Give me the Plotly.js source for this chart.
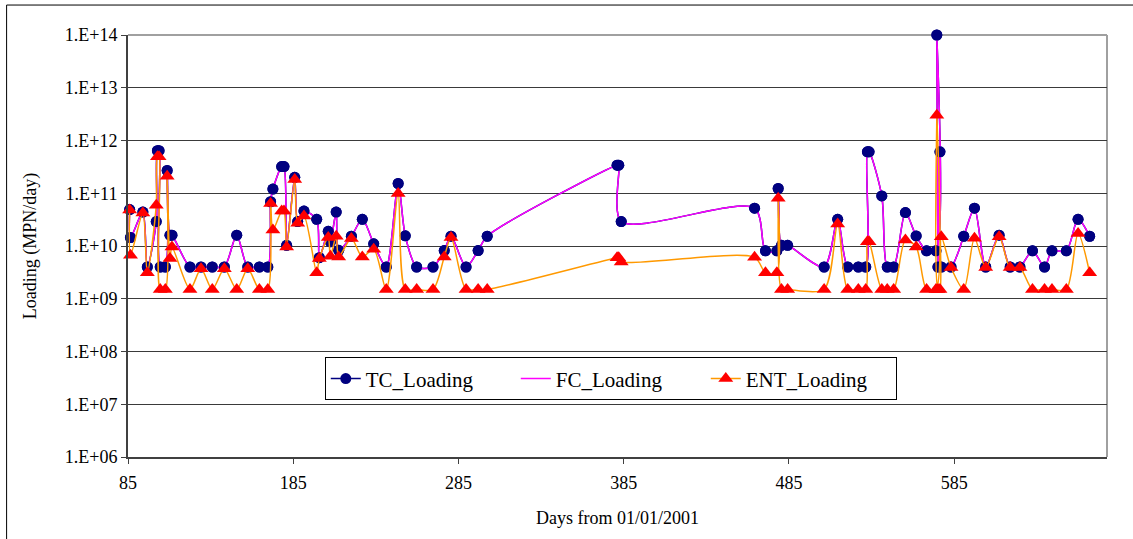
<!DOCTYPE html>
<html>
<head>
<meta charset="utf-8">
<script src="https://cdn.plot.ly/plotly-3.0.1.min.js"></script>
<style>
  html, body { margin: 0; padding: 0; background: #ffffff; }
  #chart { width: 1133px; height: 539px; }
</style>
</head>
<body>
<div id="chart"></div>
<script>
// Days from 01/01/2001 (shared sampling days)
const days = [86, 86.5, 94, 96.7, 102.1, 102.8, 103.8, 104.5, 107.6, 108.7,
  110.4, 111.6, 122.5, 129.2, 136, 143.3, 150.8, 157.5, 164.5, 169.6,
  171.3, 172.7, 178, 179.4, 181, 185.9, 187.7, 191.5, 199.2, 200.8,
  206.2, 207.5, 211, 212.5, 220.2, 226.8, 233.7, 241.3, 248.5, 252.8,
  259.7, 269.6, 276.4, 280.5, 289.6, 296.9, 302.4, 381, 382, 383.5,
  464.2, 470.8, 477.7, 478.5, 480.5, 484.2, 506.3, 514.5, 520.6, 527,
  531.5, 532.5, 533.5, 541.2, 544.5, 548.4, 555.5, 562, 568.3, 574,
  574.5, 575.2, 576.4, 577.2, 583.1, 590.8, 597.3, 604.1, 612.2, 618.9,
  624.8, 632.4, 639.7, 644.2, 652.9, 660, 667];

// TC_Loading (MPN/day)
const tcLoading = [4.9e10, 1.45e10, 4.4e10, 4e9, 2.9e10, 6.4e11, 6.4e11, 4e9, 4e9, 2.7e11,
  1.6e10, 1.6e10, 4e9, 4e9, 4e9, 4e9, 1.6e10, 4e9, 4e9, 4e9,
  6.9e10, 1.2e11, 3.2e11, 3.2e11, 1.03e10, 2.0e11, 2.9e10, 4.6e10, 3.2e10, 6e9,
  1.9e10, 1.2e10, 4.4e10, 8.3e9, 1.53e10, 3.2e10, 1.1e10, 4e9, 1.53e11, 1.56e10,
  4e9, 4e9, 8.2e9, 1.53e10, 4e9, 8.2e9, 1.53e10, 3.4e11, 3.4e11, 2.9e10,
  5.2e10, 8.1e9, 8.1e9, 1.23e11, 1.03e10, 1.03e10, 4e9, 3.2e10, 4e9, 4e9,
  4e9, 6.1e11, 6.1e11, 8.9e10, 4e9, 4e9, 4.3e10, 1.55e10, 8.1e9, 8.1e9,
  1e14, 4e9, 6.1e11, 4e9, 4e9, 1.53e10, 5.2e10, 4e9, 1.6e10, 4e9,
  4e9, 8.1e9, 4e9, 8.1e9, 8.1e9, 3.2e10, 1.53e10];

// FC_Loading (MPN/day) - coincides with TC in the picture
const fcLoading = [4.9e10, 1.45e10, 4.4e10, 4e9, 2.9e10, 6.4e11, 6.4e11, 4e9, 4e9, 2.7e11,
  1.6e10, 1.6e10, 4e9, 4e9, 4e9, 4e9, 1.6e10, 4e9, 4e9, 4e9,
  6.9e10, 1.2e11, 3.2e11, 3.2e11, 1.03e10, 2.0e11, 2.9e10, 4.6e10, 3.2e10, 6e9,
  1.9e10, 1.2e10, 4.4e10, 8.3e9, 1.53e10, 3.2e10, 1.1e10, 4e9, 1.53e11, 1.56e10,
  4e9, 4e9, 8.2e9, 1.53e10, 4e9, 8.2e9, 1.53e10, 3.4e11, 3.4e11, 2.9e10,
  5.2e10, 8.1e9, 8.1e9, 1.23e11, 1.03e10, 1.03e10, 4e9, 3.2e10, 4e9, 4e9,
  4e9, 6.1e11, 6.1e11, 8.9e10, 4e9, 4e9, 4.3e10, 1.55e10, 8.1e9, 8.1e9,
  1e14, 4e9, 6.1e11, 4e9, 4e9, 1.53e10, 5.2e10, 4e9, 1.6e10, 4e9,
  4e9, 8.1e9, 4e9, 8.1e9, 8.1e9, 3.2e10, 1.53e10];

// ENT_Loading (MPN/day)
const entLoading = [4.8e10, 6.7e9, 4.2e10, 3.1e9, 5.9e10, 4.9e11, 4.9e11, 1.5e9, 1.5e9, 2.1e11,
  5.8e9, 9.6e9, 1.5e9, 3.7e9, 1.5e9, 3.7e9, 1.5e9, 3.7e9, 1.5e9, 1.5e9,
  6.4e10, 2.0e10, 4.6e10, 4.6e10, 9.6e9, 1.83e11, 2.7e10, 3.7e10, 3.1e9, 5.8e9,
  1.45e10, 6.4e9, 1.53e10, 6.2e9, 1.39e10, 6.2e9, 8.7e9, 1.5e9, 9.9e10, 1.5e9,
  1.5e9, 1.5e9, 6.2e9, 1.45e10, 1.5e9, 1.5e9, 1.5e9, 6e9, 6e9, 5e9,
  6.1e9, 3.1e9, 3.1e9, 8e10, 1.5e9, 1.5e9, 1.5e9, 2.6e10, 1.5e9, 1.5e9,
  1.5e9, 1.2e10, 1.2e10, 1.5e9, 1.5e9, 1.5e9, 1.3e10, 9.6e9, 1.5e9, 1.5e9,
  3e12, 1.5e9, 1.5e9, 1.5e10, 3.9e9, 1.5e9, 1.4e10, 3.9e9, 1.5e10, 3.9e9,
  3.9e9, 1.5e9, 1.5e9, 1.5e9, 1.5e9, 1.73e10, 3.1e9];

// Axis tick labels
const yTickVals = [1e6, 1e7, 1e8, 1e9, 1e10, 1e11, 1e12, 1e13, 1e14];
const yTickText = ["1.E+06", "1.E+07", "1.E+08", "1.E+09", "1.E+10", "1.E+11", "1.E+12", "1.E+13", "1.E+14"];
const xTickVals = [85, 185, 285, 385, 485, 585];

const FONT = "Liberation Serif, Times New Roman, serif";

const traces = [
  {
    x: days, y: tcLoading, name: "TC_Loading", type: "scatter", mode: "lines+markers",
    line: { color: "#000080", width: 1.5, shape: "spline", smoothing: 0.8 },
    marker: { symbol: "circle", color: "#000080", size: 11 },
    cliponaxis: false, legendrank: 1
  },
  {
    x: days, y: fcLoading, name: "FC_Loading", type: "scatter", mode: "lines",
    line: { color: "#FF00FF", width: 1.5, shape: "spline", smoothing: 0.8 },
    cliponaxis: false, legendrank: 2
  },
  {
    x: days, y: tcLoading, name: "TC_Loading", type: "scatter", mode: "markers",
    marker: { symbol: "circle", color: "#000080", size: 11 },
    cliponaxis: false, showlegend: false, hoverinfo: "skip"
  },
  {
    x: days, y: entLoading, name: "ENT_Loading", type: "scatter", mode: "lines+markers",
    line: { color: "#FF9900", width: 1.5, shape: "spline", smoothing: 0.8 },
    marker: { symbol: "triangle-up", color: "#FF0000", size: 13 },
    cliponaxis: false, legendrank: 3
  }
];

const layout = {
  width: 1133, height: 539,
  margin: { l: 128, r: 26, t: 35, b: 82, pad: 0 },
  paper_bgcolor: "#ffffff", plot_bgcolor: "#ffffff",
  font: { family: FONT, size: 18, color: "#000000" },
  showlegend: true,
  legend: {
    orientation: "h", x: 0.201, y: 0.236, xanchor: "left", yanchor: "top",
    bgcolor: "#ffffff", bordercolor: "#000000", borderwidth: 1,
    font: { family: FONT, size: 21, color: "#000000" },
    entrywidth: 145, entrywidthmode: "pixels",
    traceorder: "normal"
  },
  xaxis: {
    type: "linear", range: [85, 677.5], autorange: false,
    tickmode: "array", tickvals: xTickVals, ticktext: xTickVals.map(String),
    ticks: "outside", ticklen: 5, tickcolor: "#404040", tickwidth: 1,
    ticklabelstandoff: 3,
    showline: true, linecolor: "#404040", linewidth: 2,
    showgrid: false, zeroline: false,
    tickfont: { family: FONT, size: 18, color: "#000000" },
    title: { text: "Days from 01/01/2001", font: { family: FONT, size: 18, color: "#000000" }, standoff: 20 }
  },
  yaxis: {
    type: "log", range: [6, 14], autorange: false,
    tickmode: "array", tickvals: yTickVals, ticktext: yTickText,
    ticks: "outside", ticklen: 5, tickcolor: "#404040", tickwidth: 1,
    showline: true, linecolor: "#404040", linewidth: 2,
    showgrid: true, gridcolor: "#3a3a3a", gridwidth: 1,
    zeroline: false,
    tickfont: { family: FONT, size: 18, color: "#000000" },
    title: { text: "Loading (MPN/day)", font: { family: FONT, size: 18, color: "#000000" }, standoff: 23 }
  },
  shapes: [
    { type: "line", xref: "paper", yref: "paper", x0: 0, x1: 1, y0: 1, y1: 1,
      line: { color: "#a0a0a0", width: 2 }, layer: "below" },
    { type: "line", xref: "paper", yref: "paper", x0: 1, x1: 1, y0: 0, y1: 1,
      line: { color: "#a0a0a0", width: 2 }, layer: "below" },
    { type: "rect", xref: "paper", yref: "paper", x0: -0.124, x1: 1.1, y0: -0.25, y1: 1.071,
      line: { color: "#000000", width: 1 }, fillcolor: "rgba(0,0,0,0)", layer: "below" }
  ]
};

Plotly.newPlot("chart", traces, layout, { staticPlot: true, displayModeBar: false });
</script>
</body>
</html>
